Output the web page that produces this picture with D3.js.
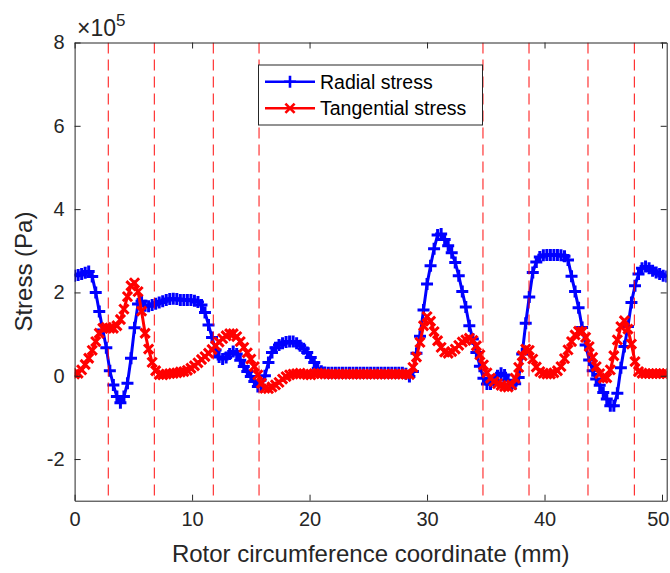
<!DOCTYPE html>
<html>
<head>
<meta charset="utf-8">
<script src="https://cdn.jsdelivr.net/npm/d3@7"></script>
<style>
  html, body { margin: 0; padding: 0; background: #fff; }
  svg { display: block; font-family: "Liberation Sans", Arial, Helvetica, sans-serif; }
</style>
</head>
<body>
<svg id="chart" width="670" height="573"></svg>
<script>
// Sampling interval along the rotor circumference (mm)
const xStep = 0.3;

// Radial stress (x 10^5 Pa), one value per sample
const radialStress = [
  2.40, 2.42, 2.44, 2.47, 2.50, 2.38, 2.00, 1.54, 1.10, 0.67,
  0.12, -0.22, -0.50, -0.65, -0.50, -0.18, 0.42, 1.15, 1.72, 1.79,
  1.68, 1.67, 1.70, 1.73, 1.76, 1.79, 1.82, 1.84, 1.85, 1.84,
  1.82, 1.82, 1.82, 1.82, 1.80, 1.77, 1.70, 1.52, 1.22, 0.92,
  0.62, 0.45, 0.40, 0.44, 0.52, 0.58, 0.52, 0.37, 0.22, 0.10,
  -0.02, -0.14, -0.26, -0.26, 0.00, 0.32, 0.56, 0.67, 0.74, 0.78,
  0.81, 0.82, 0.82, 0.78, 0.72, 0.65, 0.56, 0.44, 0.32, 0.18,
  0.11, 0.08, 0.07, 0.07, 0.07, 0.07, 0.07, 0.07, 0.07, 0.07,
  0.07, 0.07, 0.07, 0.07, 0.07, 0.07, 0.07, 0.07, 0.07, 0.07,
  0.07, 0.07, 0.07, 0.07, 0.05, -0.02, 0.10, 0.54, 0.95, 1.58,
  2.20, 2.64, 3.05, 3.38, 3.40, 3.27, 3.12, 2.95, 2.72, 2.40,
  2.02, 1.65, 1.20, 0.88, 0.56, 0.23, -0.06, -0.20, -0.20, -0.12,
  0.00, 0.06, 0.02, -0.11, -0.22, -0.19, -0.04, 0.52, 1.26, 1.89,
  2.48, 2.73, 2.85, 2.89, 2.90, 2.90, 2.90, 2.90, 2.89, 2.87,
  2.78, 2.39, 2.02, 1.63, 1.16, 0.74, 0.38, 0.12, -0.08, -0.23,
  -0.40, -0.56, -0.72, -0.72, -0.42, 0.19, 0.70, 1.18, 1.76, 2.16,
  2.44, 2.58, 2.62, 2.58, 2.52, 2.48, 2.44, 2.40, 2.38
];

// Tangential stress (x 10^5 Pa), one value per sample
const tangentialStress = [
  0.04, 0.06, 0.14, 0.27, 0.42, 0.61, 0.82, 1.02, 1.14, 1.16,
  1.14, 1.14, 1.20, 1.35, 1.60, 1.90, 2.16, 2.23, 2.02, 1.55,
  1.02, 0.64, 0.32, 0.12, 0.03, 0.02, 0.04, 0.05, 0.06, 0.07,
  0.09, 0.10, 0.13, 0.18, 0.24, 0.31, 0.39, 0.46, 0.54, 0.63,
  0.72, 0.81, 0.89, 0.96, 1.01, 1.01, 0.94, 0.82, 0.68, 0.55,
  0.40, 0.22, 0.02, -0.18, -0.30, -0.31, -0.27, -0.22, -0.16, -0.08,
  -0.02, 0.02, 0.04, 0.05, 0.06, 0.04, 0.03, 0.02, 0.05, 0.06,
  0.05, 0.04, 0.04, 0.04, 0.04, 0.04, 0.04, 0.04, 0.04, 0.04,
  0.04, 0.04, 0.04, 0.04, 0.04, 0.04, 0.04, 0.04, 0.04, 0.04,
  0.04, 0.04, 0.04, 0.04, 0.04, 0.03, 0.20, 0.45, 0.80, 1.20,
  1.42, 1.31, 1.06, 0.84, 0.68, 0.57, 0.54, 0.58, 0.64, 0.73,
  0.81, 0.86, 0.90, 0.85, 0.72, 0.50, 0.26, 0.07, -0.06, -0.14,
  -0.19, -0.23, -0.26, -0.27, -0.22, -0.06, 0.20, 0.48, 0.64, 0.61,
  0.40, 0.21, 0.10, 0.06, 0.04, 0.04, 0.07, 0.12, 0.22, 0.41,
  0.62, 0.82, 0.98, 1.07, 1.06, 0.92, 0.70, 0.44, 0.22, 0.05,
  -0.06, -0.05, 0.14, 0.48, 0.86, 1.18, 1.32, 1.12, 0.76, 0.34,
  0.10, 0.06, 0.05, 0.05, 0.05, 0.05, 0.05, 0.05, 0.05
];

// Slot / tooth boundary positions (mm)
const boundaries = [2.87, 6.79, 11.81, 15.70, 34.76, 38.68, 43.70, 47.65];

const xTicks = [0, 10, 20, 30, 40, 50];
const yTicks = [-2, 0, 2, 4, 6, 8];
const seriesNames = ["Radial stress", "Tangential stress"];

const axisColor = "#262626";
const blue = "#0000ff";
const red = "#ff0000";

const svg = d3.select("#chart");
const plotLeft = 74.6, plotRight = 666.7, plotTop = 42.5, plotBottom = 500.7;

const x = d3.scaleLinear().domain([0, 50.4]).range([plotLeft, plotRight]);
const y = d3.scaleLinear().domain([-3, 8]).range([plotBottom, plotTop]);

const toPoints = vals => vals.map((v, i) => [i * xStep, v]);
const radialPts = toPoints(radialStress);
const tangentialPts = toPoints(tangentialStress);

svg.append("defs").append("clipPath").attr("id", "plotClip")
  .append("rect").attr("x", plotLeft).attr("y", plotTop)
  .attr("width", plotRight - plotLeft).attr("height", plotBottom - plotTop);

const plot = svg.append("g").attr("clip-path", "url(#plotClip)");

const line = d3.line().x(d => x(d[0])).y(d => y(d[1]));

const plusPath = "M-6,0H6M0,-6V6";
const crossPath = "M-4.6,-4.6L4.6,4.6M-4.6,4.6L4.6,-4.6";

function drawSeries(pts, color, markerPath) {
  plot.append("path").datum(pts)
    .attr("d", line).attr("fill", "none")
    .attr("stroke", color).attr("stroke-width", 3)
    .attr("stroke-linejoin", "round");
  plot.append("g").selectAll("path").data(pts).join("path")
    .attr("transform", d => `translate(${x(d[0])},${y(d[1])})`)
    .attr("d", markerPath).attr("fill", "none")
    .attr("stroke", color).attr("stroke-width", 3);
}

drawSeries(radialPts, blue, plusPath);
drawSeries(tangentialPts, red, crossPath);

// Dashed boundary markers
plot.append("g").selectAll("line").data(boundaries).join("line")
  .attr("x1", d => x(d)).attr("x2", d => x(d))
  .attr("y1", plotTop).attr("y2", plotBottom)
  .attr("stroke", red).attr("stroke-opacity", 0.8)
  .attr("stroke-width", 1.2).attr("stroke-dasharray", "11,6");

// Axes (box with inward ticks)
function styleAxis(g) {
  g.selectAll("path.domain").attr("stroke", axisColor).attr("stroke-width", 1);
  g.selectAll(".tick line").attr("stroke", axisColor).attr("stroke-width", 1);
  g.selectAll(".tick text").attr("fill", axisColor)
    .style("font-family", "'Liberation Sans', Arial, sans-serif").style("font-size", "20px");
}

const gx = svg.append("g").attr("transform", `translate(0,${plotBottom})`)
  .call(d3.axisBottom(x).tickValues(xTicks).tickSize(-6).tickSizeOuter(0).tickPadding(11))
  .call(styleAxis);
gx.selectAll(".tick text").attr("dy", "0.71em");
// keep the last label inside the figure edge
gx.selectAll(".tick text").filter(d => d === xTicks[xTicks.length - 1])
  .attr("text-anchor", "end").attr("x", d => 669 - x(d));

svg.append("g").attr("transform", `translate(0,${plotTop})`)
  .call(d3.axisTop(x).tickValues(xTicks).tickSize(-6).tickSizeOuter(0).tickFormat(""))
  .call(styleAxis);

svg.append("g").attr("transform", `translate(${plotLeft},0)`)
  .call(d3.axisLeft(y).tickValues(yTicks).tickSize(-6).tickSizeOuter(0).tickPadding(10)
    .tickFormat(d => d < 0 ? "-" + Math.abs(d) : String(d)))
  .call(styleAxis);

svg.append("g").attr("transform", `translate(${plotRight},0)`)
  .call(d3.axisRight(y).tickValues(yTicks).tickSize(-6).tickSizeOuter(0).tickFormat(""))
  .call(styleAxis);

// Exponent multiplier above the y axis
const expo = svg.append("text").attr("x", 77).attr("y", 36)
  .attr("fill", axisColor).style("font-size", "23px");
expo.append("tspan").text("\u00d710");
expo.append("tspan").attr("dy", -10).style("font-size", "17px").text("5");

// Axis titles
svg.append("text").attr("x", (plotLeft + plotRight) / 2).attr("y", 562)
  .attr("text-anchor", "middle").attr("fill", axisColor)
  .style("font-size", "24px").text("Rotor circumference coordinate (mm)");

svg.append("text")
  .attr("transform", `translate(32,${(plotTop + plotBottom) / 2}) rotate(-90)`)
  .attr("text-anchor", "middle").attr("fill", axisColor)
  .style("font-size", "24px").text("Stress (Pa)");

// Legend
const lg = svg.append("g");
lg.append("rect").attr("x", 258.5).attr("y", 65).attr("width", 224).attr("height", 60)
  .attr("fill", "#fff").attr("stroke", axisColor).attr("stroke-width", 1);

const legendRows = [
  { name: seriesNames[0], color: blue, marker: plusPath, yy: 81.7 },
  { name: seriesNames[1], color: red, marker: crossPath, yy: 108.3 }
];
legendRows.forEach(r => {
  lg.append("line").attr("x1", 265).attr("x2", 315).attr("y1", r.yy).attr("y2", r.yy)
    .attr("stroke", r.color).attr("stroke-width", 2.5);
  lg.append("path").attr("transform", `translate(290,${r.yy})`).attr("d", r.marker)
    .attr("fill", "none").attr("stroke", r.color).attr("stroke-width", 2.6);
  lg.append("text").attr("x", 320).attr("y", r.yy).attr("dy", "0.35em")
    .attr("fill", "#000").style("font-size", "19.5px").text(r.name);
});
</script>
</body>
</html>
